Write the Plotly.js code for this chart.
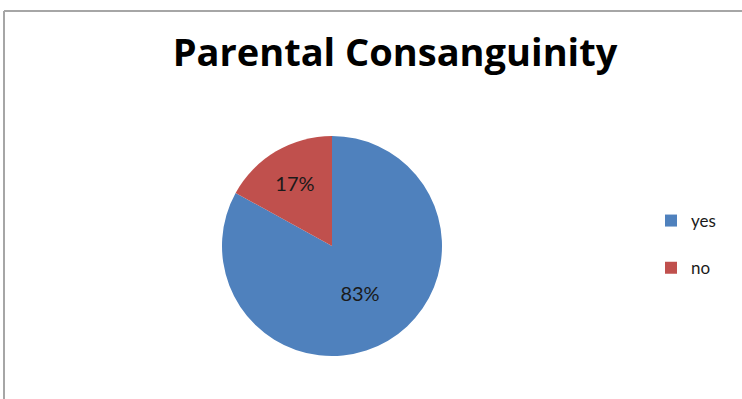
<!DOCTYPE html>
<html>
<head>
<meta charset="utf-8">
<script src="https://cdn.plot.ly/plotly-3.0.1.min.js"></script>
<style>
  html, body { margin: 0; padding: 0; background: #ffffff; overflow: hidden; }
  #chart { width: 742px; height: 399px; }
</style>
</head>
<body>
<div id="chart"></div>
<script>
const categories = ['yes', 'no'];
const values = [83, 17];
const sliceColors = ['#4F81BD', '#C0504D'];
const chartTitle = 'Parental Consanguinity';

const W = 742, H = 399;
const px = x => x / W;
const py = y => 1 - y / H;

const trace = {
  type: 'pie',
  labels: categories.map(c => c + '<br>&nbsp;'),
  values: values,
  sort: false,
  direction: 'clockwise',
  rotation: 0,
  marker: { colors: sliceColors, line: { width: 0 } },
  textinfo: 'percent',
  texttemplate: '%{percent:.0%}',
  textposition: 'inside',
  insidetextorientation: 'horizontal',
  textfont: { family: 'Lato, "Liberation Sans", sans-serif', size: 20, color: '#1a1a1a' },
  domain: { x: [px(222), px(442)], y: [py(356), py(136)] },
  hoverinfo: 'label+percent'
};

const layout = {
  width: W,
  height: H,
  margin: { l: 0, r: 0, t: 0, b: 0 },
  paper_bgcolor: '#ffffff',
  title: {
    text: '<b>' + chartTitle + '</b>',
    x: px(395), xanchor: 'center', xref: 'paper',
    y: py(53), yanchor: 'middle', yref: 'paper',
    font: { family: '"Open Sans", sans-serif', size: 38, color: '#000000' }
  },
  showlegend: true,
  legend: {
    x: px(651), xanchor: 'left',
    y: py(203), yanchor: 'top',
    valign: 'top',
    font: { family: 'Lato, "Liberation Sans", sans-serif', size: 17, color: '#1a1a1a' },
    bgcolor: 'rgba(0,0,0,0)'
  },
  shapes: [
    { type: 'line', xref: 'paper', yref: 'paper', x0: px(4), x1: 1.01, y0: py(11), y1: py(11), line: { color: '#a6a6a6', width: 2 } },
    { type: 'line', xref: 'paper', yref: 'paper', x0: px(4), x1: px(4), y0: py(11), y1: -0.01, line: { color: '#a6a6a6', width: 2 } }
  ]
};

Plotly.newPlot('chart', [trace], layout, { displayModeBar: false, staticPlot: true });
</script>
</body>
</html>
